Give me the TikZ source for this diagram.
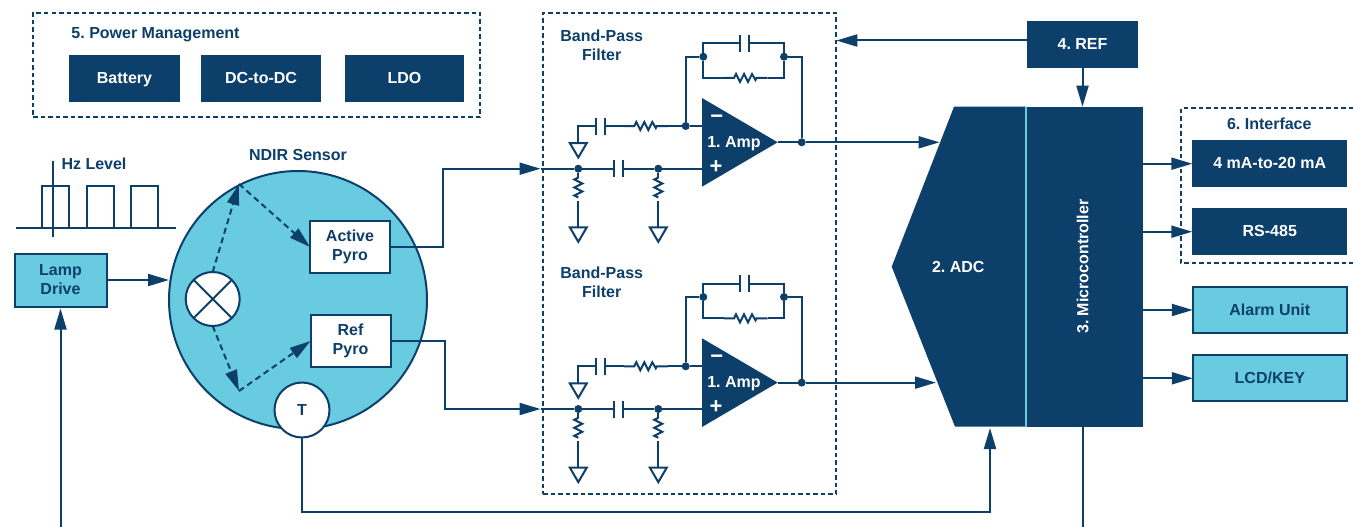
\documentclass[tikz,border=0pt]{standalone}
\usepackage{fontspec}
\setmainfont{Liberation Sans}
\definecolor{AdiNavy}{HTML}{0D3F6B}
\definecolor{AdiCyan}{HTML}{68CBE0}
\usetikzlibrary{arrows.meta}
\usetikzlibrary{calc}
\usetikzlibrary{positioning}

\tikzset{
  oneline/.style={text height=13pt,text depth=3pt},
  darkbox/.style={shape=rectangle,oneline,fill=AdiNavy,text=white,minimum height=47pt},
  lightbox/.style={shape=rectangle,oneline,fill=AdiCyan,draw,minimum width=154pt,minimum height=46pt},
  pyrobox/.style={shape=rectangle,fill=white,draw,minimum width=80pt,minimum height=52pt,align=center},
  dashbox/.style={shape=rectangle,draw,dash pattern=on 4.5pt off 3pt},
  beam/.style={->,dash pattern=on 6pt off 4pt},
  junction/.style={shape=circle,fill=AdiNavy,inner sep=0pt,minimum size=8pt},
  reshoriz/.pic={
    \draw (-22,0) -- (-11.5,0) -- ++(2,-4) -- ++(4,8) -- ++(4,-8) -- ++(4,8)
      -- ++(4,-8) -- ++(3.5,6) -- ++(1,-2) -- (22,0);
    \coordinate (-l) at (-22,0);
    \coordinate (-r) at (22,0);
  },
  resvert/.pic={
    \draw (0,-11.5) -- ++(-4,2) -- ++(8,4) -- ++(-8,4) -- ++(8,4) -- ++(-8,4)
      -- ++(4,2);
    \coordinate (-t) at (0,-11.5);
    \coordinate (-b) at (0,11.5);
  },
  capacitor/.pic={
    \draw (-4.5,-8.5) -- (-4.5,8.5);
    \draw (4.5,-8.5) -- (4.5,8.5);
    \coordinate (-l) at (-4.5,0);
    \coordinate (-r) at (4.5,0);
  },
  ground/.pic={
    \draw (-8.5,0) -- (8.5,0) -- (0,14.5) -- cycle;
    \coordinate (-t) at (0,0);
  }
}

\begin{document}
\frenchspacing
\begin{tikzpicture}[x=1pt,y=-1pt,
    color=AdiNavy,
    line width=2pt,
    outer sep=0pt,
    font=\fontsize{16}{19}\selectfont\bfseries,
    >={Triangle[length=21pt,width=12pt]},
    node distance=21pt and 21pt]
  \path [use as bounding box] (0,0) rectangle (1353,527);

  % power management
  \node[name=power,dashbox,minimum width=447pt,minimum height=104pt] at (256.5,65) {};
  \node[name=powertitle,oneline] at (155.5,33.5) {5. Power Management};
  \node[name=battery,darkbox,minimum width=111pt] at (124.5,79) {Battery};
  \node[name=dcdc,darkbox,minimum width=120pt,right=of battery] {DC-to-DC};
  \node[name=ldo,darkbox,minimum width=119pt,right=24pt of dcdc] {LDO};

  % lamp and sensor
  \node[name=hzlevel,oneline] at (94,164) {Hz Level};
  \draw (16,228.3) -- (176,228.3);
  \draw (53,161) -- (53,237);
  \draw (42,228.3) |- (69,185.7) -- (69,228.3);
  \draw (87,228.3) |- (113.5,185.7) -- (113.5,228.3);
  \draw (131,228.3) |- (158,185.7) -- (158,228.3);

  \node[name=lamp,shape=rectangle,fill=AdiCyan,draw,minimum width=92pt,minimum height=53pt,
    align=center] at (60.5,280) {Lamp\\Drive};
  \node[name=ndir,shape=circle,fill=AdiCyan,draw,minimum size=258pt] at (298,300) {};
  \node[name=ndirtitle,oneline] at (298,155.5) {NDIR Sensor};
  \node[name=active,pyrobox] at (350,247) {Active\\Pyro};
  \node[name=refpyro,pyrobox] at (350.5,341) {Ref\\Pyro};
  \node[name=bulb,shape=circle,fill=white,draw,minimum size=54pt] at (212.7,299) {};
  \draw (bulb.45) -- (bulb.225);
  \draw (bulb.135) -- (bulb.315);
  \node[name=tsense,shape=circle,oneline,fill=white,draw,minimum size=55pt] at (302,410) {T};
  \coordinate (bounceup) at (239,184);
  \coordinate (bouncedown) at (239,391);
  \coordinate (lampfeed) at (60.5,527);

  \path (lamp.east) edge[->] (lamp.east -| ndir.west);
  \path (lampfeed) edge[->] ([yshift=-2pt]lamp.south);
  \path (bulb.north) edge[beam] (bounceup);
  \path (bounceup) edge[beam] (active.west);
  \path (bulb.south) edge[beam] (bouncedown);
  \path (bouncedown) edge[beam] (refpyro.west);

  % filters
  \node[name=filters,dashbox,minimum width=293pt,minimum height=481pt] at (689.8,253.5) {};
  \foreach \f/\dy/\ly in {a/0/35,b/240.3/272} {
    \node[name=bandpass\f,align=center] at (601.7,\ly+10) {Band-Pass\\Filter};
    \begin{scope}[shift={(0,\dy)}]
      \fill (702,98) -- (777.7,142.3) -- (702,186.7) -- cycle;
      \node[name=amp\f,oneline,text=white] at (734,142.3) {1. Amp};
      \node[name=minus\f,text=white,font=\fontsize{22}{22}\selectfont\bfseries] at (716.7,119) {−};
      \node[name=plus\f,text=white,font=\fontsize{22}{22}\selectfont\bfseries] at (716,167) {+};
      \coordinate (entry\f) at (540.5,168.7);
      \coordinate (inv\f) at (702,126);
      \coordinate (noninv\f) at (702,168.7);
      \coordinate (tip\f) at (777.7,142.3);
      \node[name=in\f,junction] at (578.3,168.7) {};
      \node[name=mid\f,junction] at (658.3,168.7) {};
      \node[name=sum\f,junction] at (685.7,126) {};
      \node[name=fbl\f,junction] at (703.3,56.7) {};
      \node[name=fbr\f,junction] at (784,56.7) {};
      \node[name=out\f,junction] at (801.7,142.3) {};
      \pic (cin\f) at (618.3,168.7) {capacitor};
      \pic (cup\f) at (600.7,126) {capacitor};
      \pic (cfb\f) at (744.7,43.3) {capacitor};
      \pic (rup\f) at (645.8,126) {reshoriz};
      \pic (rfb\f) at (745.5,78) {reshoriz};
      \pic (rin\f) at (578.3,189) {resvert};
      \pic (rmid\f) at (658.3,189) {resvert};
      \pic (gup\f) at (578.3,143) {ground};
      \pic (gin\f) at (578.3,227.3) {ground};
      \pic (gmid\f) at (658.3,227.3) {ground};
      \draw (entry\f) -- (in\f);
      \draw (in\f) -- (cin\f-l);
      \draw (cin\f-r) -- (mid\f);
      \draw (mid\f) -- (noninv\f);
      \draw (in\f) -- (rin\f-t);
      \draw (rin\f-b) -- (gin\f-t);
      \draw (mid\f) -- (rmid\f-t);
      \draw (rmid\f-b) -- (gmid\f-t);
      \draw (gup\f-t) |- (cup\f-l);
      \draw (cup\f-r) -- (rup\f-l);
      \draw (rup\f-r) -- (sum\f);
      \draw (sum\f) -- (inv\f);
      \draw (sum\f) |- (fbl\f);
      \draw (fbl\f) |- (cfb\f-l);
      \draw (cfb\f-r) -| (fbr\f);
      \draw (fbl\f) |- (rfb\f-l);
      \draw (rfb\f-r) -| (fbr\f);
      \draw (fbr\f) -| (out\f);
      \draw (tip\f) -- (out\f);
    \end{scope}
  }
  \draw[->] (active.east) -- (443,247) |- (entrya);
  \draw[->] (refpyro.east) -- (445,341) |- (entryb);

  % converter and controller
  \node[name=micro,shape=rectangle,fill=AdiNavy,minimum width=117pt,minimum height=320pt]
    at (1084.7,266.7) {};
  \fill (954,106.7) -- (1026,106.7) -- (1026,426.7) -- (955,426.7) -- (891.7,266.7) -- cycle;
  \draw[AdiCyan,line width=2pt] (1025.7,106.7) -- (1025.7,426.7);
  \node[name=adc,oneline,text=white] at (958.3,267) {2. ADC};
  \node[name=microtext,oneline,text=white,rotate=90] at (1083.3,266.7) {3. Microcontroller};
  \coordinate (adcina) at (939.5,142.3);
  \coordinate (adcinb) at (936,382.6);
  \coordinate (adcbottom) at (990,428);
  \coordinate (tempturn) at (302,512);
  \coordinate (microfeed) at (1083,527);
  \path (outa) edge[->] (adcina);
  \path (outb) edge[->] (adcinb);
  \draw[->] (tsense.south) -- (tempturn) -| (adcbottom);
  \draw ([xshift=-1.7pt]micro.south) -- (microfeed);

  % reference
  \node[name=ref,darkbox,minimum width=111pt] at (1082.5,44.5) {4. REF};
  \path ([yshift=4pt]ref.west) edge[->] ([yshift=4pt]ref.west -| filters.east);
  \path (ref.south) edge[->] (ref.south |- micro.north);

  % interface and outputs
  \draw[dash pattern=on 4.5pt off 3pt] (1353,108.3) -- (1181,108.3) -- (1181,263.3) -- (1353,263.3);
  \node[name=interface,oneline] at (1269.3,124) {6. Interface};
  \node[name=current,darkbox,minimum width=155pt] at (1269.8,163.7) {4 mA-to-20 mA};
  \node[name=rs,darkbox,minimum width=155pt,below=of current] {RS-485};
  \node[name=alarm,lightbox] at (1269.8,310) {Alarm Unit};
  \node[name=lcd,lightbox] at (1269.8,378.3) {LCD/KEY};
  \path (micro.east |- current.west) edge[->] (current.west);
  \path (micro.east |- rs.west) edge[->] (rs.west);
  \path (micro.east |- alarm.west) edge[->] (alarm.west);
  \path (micro.east |- lcd.west) edge[->] (lcd.west);
\end{tikzpicture}
\end{document}
